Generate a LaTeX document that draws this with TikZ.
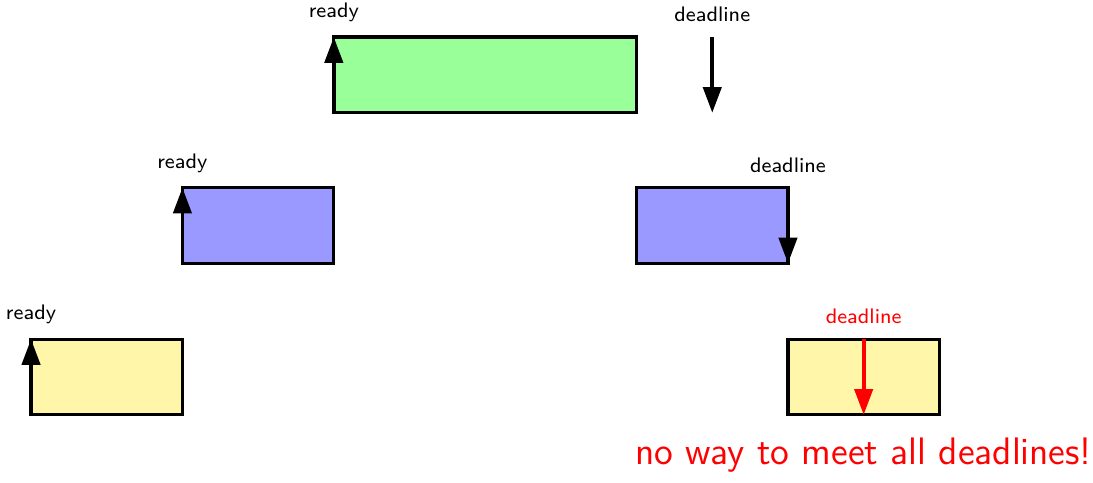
\documentclass[tikz,border=0pt]{standalone}
\usetikzlibrary{arrows.meta,calc}
\definecolor{jobgreen}{RGB}{153,255,153}
\definecolor{jobblue}{RGB}{153,153,255}
\definecolor{jobyellow}{RGB}{255,246,170}
\begin{document}
\begin{tikzpicture}[
  job/.style={draw, very thick, inner sep=0pt, outer sep=0pt, minimum height=1cm, anchor=north west},
  tiny/.style={job, minimum width=2cm},
  wide/.style={job, minimum width=4cm},
  lbl/.style={font=\sffamily\fontsize{7.9}{9}\selectfont, anchor=base, inner sep=0pt},
  evt/.style={line width=1.4pt, -{Triangle[width=0.24cm, length=0.34cm]}},
]
\useasboundingbox (0,0) rectangle (14.44,-6.38);

% jobs
\node[wide, fill=jobgreen]  (g)  at (4.41,-0.49) {};
\node[tiny, fill=jobblue]   (bl) at (2.41,-2.48) {};
\node[tiny, fill=jobblue]   (br) at (8.41,-2.48) {};
\node[tiny, fill=jobyellow] (yl) at (0.41,-4.48) {};
\node[tiny, fill=jobyellow] (yr) at (10.41,-4.48) {};

% release times
\draw[evt] (g.south west) -- (g.north west);
\draw[evt] (bl.south west) -- (bl.north west);
\draw[evt] (yl.south west) -- (yl.north west);
\node[lbl] (rg) at ($(g.north west)+(0,0.26)$) {ready};
\node[lbl] (rb) at ($(bl.north west)+(0,0.26)$) {ready};
\node[lbl] (ry) at ($(yl.north west)+(0,0.26)$) {ready};

% deadlines
\coordinate (dtop) at ($(g.north east)+(1,0)$);
\coordinate (dbot) at ($(g.south east)+(1,0)$);
\draw[evt] (dtop) -- (dbot);
\node[lbl] (dg) at ($(dtop)+(0,0.2)$) {deadline};

\draw[evt] (br.north east) -- (br.south east);
\node[lbl] (db) at ($(br.north east)+(0,0.2)$) {deadline};

\draw[evt, red] (yr.north) -- (yr.south);
\node[lbl, text=red] (dy) at ($(yr.north)+(0,0.2)$) {deadline};

\node[font=\sffamily\fontsize{14.4}{17}\selectfont, text=red, anchor=base, inner sep=0pt]
  (msg) at (11.41,-6.14) {no way to meet all deadlines!};
\end{tikzpicture}
\end{document}
